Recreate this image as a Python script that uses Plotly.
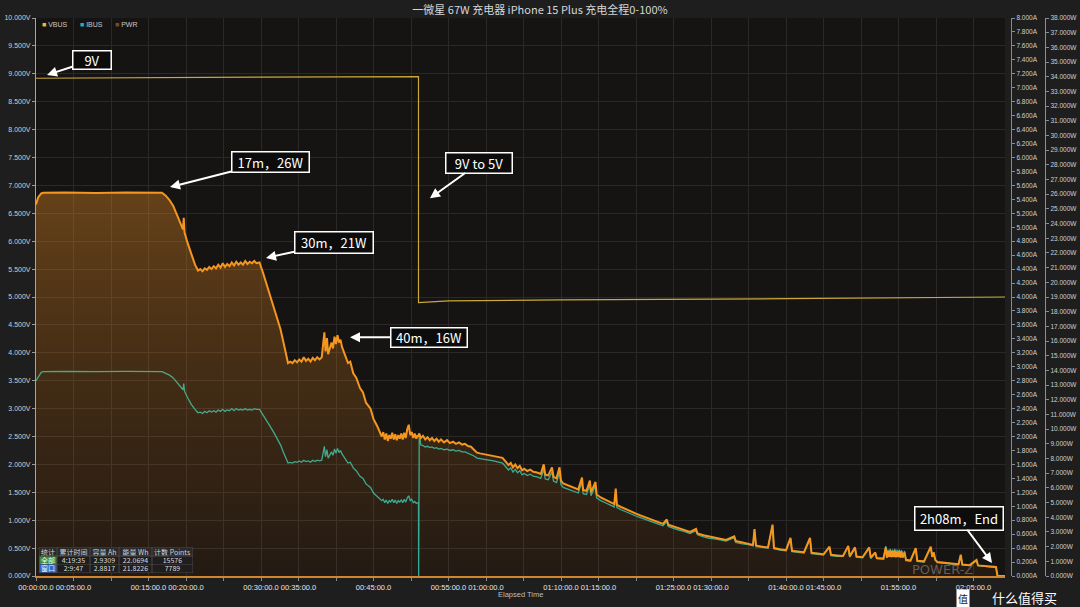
import plotly.graph_objects as go

TITLE = "一微星 67W 充电器 iPhone 15 Plus 充电全程0-100%"

# ---------------- data ----------------
# VBUS (V), elapsed minutes
t_vbus = [0.0, 10.0, 30.0, 51.0, 51.0, 55.0, 70.0, 100.0, 129.2]
vbus = [8.92, 8.93, 8.94, 8.95, 4.90, 4.93, 4.95, 4.97, 5.00]

# Phase 1 (9V): time (min), PWR (W), IBUS (A)
t_p1 = [0.0, 0.3, 0.7, 1.0, 4.0, 8.0, 12.0, 16.8,
        17.3, 17.8, 18.3, 18.8, 19.2, 19.6, 19.7, 19.8, 20.2, 20.7, 21.2, 21.6,
        21.9, 22.2, 22.5, 22.8, 23.1, 23.4, 23.7, 24.0, 24.3, 24.6, 24.9, 25.2, 25.5,
        25.8, 26.1, 26.4, 26.7, 27.0, 27.3, 27.6, 27.9, 28.2, 28.5, 28.8, 29.1, 29.4, 29.8,
        30.3, 30.8, 31.2, 31.7, 32.1, 32.6, 33.0, 33.3, 33.6,
        33.9, 34.2, 34.5, 34.8, 35.1, 35.4, 35.7, 36.0, 36.3, 36.6, 36.9, 37.2, 37.5, 37.8, 38.1,
        38.3, 38.45, 38.6, 38.8, 38.95, 39.2, 39.4, 39.6, 39.8, 40.0, 40.2, 40.4, 40.6, 40.8,
        41.2, 41.6, 41.9, 42.3, 42.7, 43.2, 43.6, 44.0, 44.6, 45.0, 45.5, 46.1,
        46.3, 46.5, 46.7, 46.9, 47.1, 47.3, 47.5, 47.7, 47.9, 48.1, 48.3, 48.5,
        48.7, 48.9, 49.1, 49.3, 49.5, 49.7, 49.9, 50.1, 50.3, 50.5, 50.7, 50.9, 51.0]
pwr_p1 = [25.3, 25.8, 26.05, 26.1, 26.12, 26.08, 26.12, 26.1,
          25.9, 25.6, 25.2, 24.6, 24.0, 23.6, 24.4, 23.4, 22.7, 21.9, 21.2, 20.8,
          20.9, 20.75, 20.95, 20.85, 21.05, 20.9, 21.1, 20.95, 21.2, 21.0, 21.3, 21.05, 21.25,
          21.1, 21.35, 21.15, 21.4, 21.2, 21.35, 21.2, 21.45, 21.25, 21.4, 21.3, 21.45, 21.3, 21.35,
          20.6, 19.8, 19.2, 18.4, 17.7, 16.8, 15.9, 15.2, 14.5,
          14.6, 14.5, 14.7, 14.55, 14.75, 14.6, 14.9, 14.65, 14.8, 14.6, 14.85, 14.7, 14.9, 14.75, 14.9,
          15.9, 16.6, 15.3, 16.2, 15.1, 15.6, 15.9, 15.5, 16.3, 15.8, 16.4, 15.9, 16.1, 15.6,
          15.1, 14.5, 14.6, 13.8, 13.5, 12.8, 12.5, 11.8, 11.4, 10.7, 10.2, 9.5,
          9.8, 9.3, 9.7, 9.2, 9.6, 9.35, 9.75, 9.3, 9.65, 9.25, 9.6, 9.35,
          9.7, 9.3, 9.75, 9.4, 10.0, 10.3, 9.6, 9.8, 9.4, 9.7, 9.35, 9.6, 9.5]
ibus_p1 = [2.80, 2.86, 2.92, 2.93, 2.935, 2.93, 2.935, 2.93,
           2.91, 2.88, 2.84, 2.78, 2.72, 2.67, 2.76, 2.65, 2.56, 2.46, 2.39, 2.34,
           2.35, 2.33, 2.36, 2.34, 2.37, 2.35, 2.37, 2.35, 2.38, 2.36, 2.39, 2.36, 2.38,
           2.37, 2.40, 2.37, 2.40, 2.38, 2.39, 2.38, 2.40, 2.38, 2.39, 2.38, 2.40, 2.39, 2.39,
           2.31, 2.22, 2.15, 2.06, 1.98, 1.88, 1.77, 1.69, 1.62,
           1.63, 1.62, 1.64, 1.63, 1.65, 1.63, 1.66, 1.64, 1.65, 1.63, 1.66, 1.64, 1.66, 1.65, 1.66,
           1.78, 1.86, 1.71, 1.81, 1.69, 1.74, 1.78, 1.73, 1.82, 1.76, 1.83, 1.77, 1.80, 1.75,
           1.69, 1.62, 1.63, 1.55, 1.51, 1.43, 1.40, 1.32, 1.27, 1.19, 1.14, 1.08,
           1.10, 1.05, 1.09, 1.04, 1.08, 1.06, 1.10, 1.05, 1.09, 1.04, 1.08, 1.06,
           1.09, 1.05, 1.10, 1.06, 1.12, 1.15, 1.08, 1.10, 1.05, 1.07, 1.04, 1.05, 1.04]

# Phase 2 (5V)
t_p2 = [51.02, 51.1, 51.3, 51.6, 51.9, 52.2, 52.5, 52.8, 53.1, 53.4, 53.7, 54.0,
        54.4, 54.8, 55.2, 55.6, 56.0, 56.4, 56.8, 57.2, 57.6, 58.0, 58.4, 58.8,
        59.2, 59.8, 60.4, 61.0, 61.6, 62.2, 62.6, 63.0, 63.3, 63.6, 63.9, 64.2,
        64.5, 64.8, 65.1, 65.5, 65.9, 66.3, 66.8, 67.3, 67.7, 67.9, 68.3, 68.8,
        69.0, 69.4, 69.8, 70.0, 70.3, 70.8, 71.3, 71.8, 72.3, 72.8, 72.95, 73.4,
        73.85, 74.0, 74.6, 74.75, 75.3, 75.9, 76.5, 77.1, 77.3, 77.45, 78.0, 78.6,
        79.3, 80.0, 80.5, 81.2, 82.0, 82.8, 83.6, 84.1, 84.3, 85.0, 85.6, 86.4,
        87.2, 88.0, 88.2, 89.0, 89.8, 90.7, 91.4, 92.0, 93.1, 93.3, 94.2, 95.0,
        95.6, 95.8, 96.0, 96.8, 97.6, 98.2, 98.4, 99.2, 100.0, 100.6, 100.8, 101.6,
        102.4, 103.2, 103.4, 104.2, 105.0, 105.8, 106.0, 106.8, 107.6, 108.3, 108.5, 109.2,
        109.4, 110.2, 111.1, 111.3, 111.9, 112.1, 113.0, 113.3, 113.45, 113.6, 113.75, 113.9,
        114.05, 114.2, 114.35, 114.5, 114.65, 114.8, 114.95, 115.1, 115.25, 115.4, 115.55, 115.8,
        116.0, 116.6, 117.3, 117.5, 118.4, 119.3, 119.5, 119.7, 119.9, 120.2, 121.0, 122.0,
        123.0, 123.3, 123.5, 124.5, 125.4, 125.6, 126.5, 127.3, 128.0, 128.2, 129.2]
pwr_p2 = [9.55, 9.7, 9.4, 9.55, 9.3, 9.45, 9.25, 9.4, 9.2, 9.35, 9.15, 9.3,
          9.1, 9.25, 9.05, 9.15, 9.0, 9.1, 8.95, 9.0, 8.85, 8.8, 8.6, 8.4,
          8.35, 8.3, 8.25, 8.2, 8.15, 8.05, 7.8, 7.55, 7.7, 7.4, 7.6, 7.35,
          7.5, 7.2, 7.3, 7.15, 7.25, 7.1, 7.05, 6.95, 7.6, 6.9, 6.85, 7.4,
          6.75, 6.65, 7.4, 6.5, 6.3, 6.2, 6.1, 6.0, 5.9, 6.7, 5.85, 5.8,
          6.5, 5.7, 6.4, 5.55, 5.35, 5.2, 5.05, 4.9, 5.95, 4.85, 4.7, 4.55,
          4.4, 4.25, 4.15, 4.0, 3.85, 3.7, 3.55, 3.85, 3.5, 3.37, 3.27, 3.15,
          3.0, 3.2, 2.9, 2.78, 2.68, 2.6, 2.5, 2.45, 2.7, 2.38, 2.28, 2.2,
          2.12, 3.2, 2.08, 2.0, 1.95, 3.5, 1.9, 1.82, 1.76, 2.6, 1.72, 1.67,
          1.62, 2.6, 1.58, 1.53, 1.48, 2.0, 1.44, 1.4, 1.36, 2.05, 1.34, 1.95,
          1.32, 1.28, 1.95, 1.25, 1.6, 1.23, 1.2, 1.95, 1.25, 1.7, 1.3, 1.75,
          1.28, 1.7, 1.3, 1.75, 1.27, 1.65, 1.3, 1.7, 1.26, 1.68, 1.25, 1.6,
          1.1, 1.06, 1.9, 1.04, 1.0, 2.0, 1.3, 1.6, 1.1, 0.95, 0.9, 0.85,
          0.8, 1.45, 0.78, 0.74, 1.1, 0.72, 0.7, 0.66, 0.62, 0.0, 0.0]
ibus_p2 = [0.0, 2.05, 1.88, 1.87, 1.85, 1.86, 1.84, 1.85, 1.83, 1.84, 1.82, 1.83,
           1.81, 1.82, 1.80, 1.81, 1.79, 1.80, 1.78, 1.78, 1.76, 1.75, 1.72, 1.69,
           1.68, 1.67, 1.66, 1.65, 1.64, 1.62, 1.57, 1.52, 1.55, 1.49, 1.53, 1.48,
           1.51, 1.45, 1.47, 1.44, 1.46, 1.43, 1.42, 1.40, 1.53, 1.39, 1.38, 1.49,
           1.36, 1.34, 1.49, 1.31, 1.27, 1.25, 1.23, 1.21, 1.19, 1.35, 1.18, 1.17,
           1.31, 1.15, 1.29, 1.12, 1.08, 1.05, 1.02, 0.99, 1.22, 0.98, 0.95, 0.92,
           0.89, 0.86, 0.84, 0.81, 0.78, 0.75, 0.72, 0.78, 0.71, 0.68, 0.66, 0.64,
           0.61, 0.65, 0.59, 0.56, 0.54, 0.53, 0.51, 0.50, 0.55, 0.48, 0.46, 0.45,
           0.43, 0.66, 0.42, 0.41, 0.40, 0.72, 0.39, 0.37, 0.36, 0.53, 0.35, 0.34,
           0.33, 0.53, 0.32, 0.31, 0.30, 0.41, 0.29, 0.28, 0.28, 0.42, 0.27, 0.40,
           0.27, 0.26, 0.40, 0.25, 0.33, 0.25, 0.24, 0.43, 0.26, 0.38, 0.27, 0.39,
           0.28, 0.38, 0.27, 0.39, 0.28, 0.38, 0.27, 0.38, 0.27, 0.37, 0.27, 0.36,
           0.22, 0.21, 0.39, 0.21, 0.20, 0.41, 0.28, 0.34, 0.23, 0.19, 0.18, 0.17,
           0.16, 0.30, 0.16, 0.15, 0.22, 0.15, 0.14, 0.13, 0.12, 0.0, 0.0]

for a, b, c in [(t_p1, pwr_p1, ibus_p1), (t_p2, pwr_p2, ibus_p2)]:
    assert len(a) == len(b) == len(c), (len(a), len(b), len(c))

t_all = t_p1 + t_p2
pwr_all = pwr_p1 + pwr_p2
ibus_all = ibus_p1 + ibus_p2

x_tickvals = [0, 5, 10, 15, 20, 25, 30, 35, 40, 45, 50, 55, 60, 65, 70, 75, 80,
              85, 90, 95, 100, 105, 110, 115, 120, 125]
x_ticktext = ["00:00:00.0", "00:05:00.0", "", "00:15:00.0", "00:20:00.0", "",
              "00:30:00.0", "00:35:00.0", "", "00:45:00.0", "", "00:55:00.0",
              "01:00:00.0", "", "01:10:00.0", "01:15:00.0", "", "01:25:00.0",
              "01:30:00.0", "", "01:40:00.0", "01:45:00.0", "", "01:55:00.0", "",
              "02:05:00.0"]

stat_header = ["统计", "累计时间", "容量 Ah", "能量 Wh", "计数 Points"]
stat_row_all = ["全部", "4:19:35", "2.9309", "22.0694", "15576"]
stat_row_win = ["窗口", "2:9:47", "2.8817", "21.8226", "7789"]

notes = ["9V", "17m，26W", "9V to 5V", "30m，21W", "40m，16W", "2h08m，End"]

# ---------------- styling / geometry ----------------
C_V = "#c9a93a"
C_I = "#22b5a8"
C_P = "#f5961e"
BG = "#1e1e1e"
PLOT_BG = "#161313"
GRID = "#2c2828"
FONT = "Liberation Sans, Noto Sans CJK SC, sans-serif"
CJK = "Noto Sans CJK SC, Noto Sans, sans-serif"

L, R, T, B = 36, 8, 18, 31
WP = 1080 - L - R
HP = 607 - T - B
x_end = (1005 - L) / WP
posA = (1011 - L) / WP
posW = (1045 - L) / WP


def px(xp):
    return (xp - L) / WP


def py(yp):
    return (576 - yp) / HP


fig = go.Figure()

fig.add_trace(go.Scatter(
    x=t_all, y=pwr_all, name="PWR", mode="lines", yaxis="y3",
    line=dict(color=C_P, width=2),
    fill="tozeroy",
    fillgradient=dict(type="vertical", start=0, stop=26,
                      colorscale=[[0, "rgba(190,110,20,0.08)"],
                                  [1, "rgba(230,140,35,0.38)"]]),
    showlegend=False))
fig.add_trace(go.Scatter(
    x=t_all, y=ibus_all, name="IBUS", mode="lines", yaxis="y2",
    line=dict(color=C_I, width=1.3), showlegend=False))
fig.add_trace(go.Scatter(
    x=t_vbus, y=vbus, name="VBUS", mode="lines", yaxis="y",
    line=dict(color=C_V, width=1.2), showlegend=False))

axis_font = dict(size=7, color="#cfcfcf", family=FONT)

fig.update_layout(
    width=1080, height=607,
    margin=dict(l=L, r=R, t=T, b=B, autoexpand=False),
    paper_bgcolor=BG, plot_bgcolor=PLOT_BG,
    font=dict(family=FONT, color="#d0d0d0"),
    title=dict(text=TITLE, x=0.5, xanchor="center", y=1 - 10 / 607, yanchor="middle",
               font=dict(size=11, color="#d6d6d6", family=CJK)),
    xaxis=dict(domain=[0, x_end], range=[0, 129.2], tickvals=x_tickvals, ticktext=x_ticktext,
               showgrid=True, gridcolor=GRID, gridwidth=1, zeroline=False,
               showline=True, linecolor="#d0862c", linewidth=1.5,
               ticks="outside", ticklen=3, tickcolor="#8a8a8a",
               tickfont=dict(size=7.5, color="#e6e6e6", family=FONT), automargin=False),
    yaxis=dict(range=[0, 10], dtick=0.5, tick0=0, tickformat=".3f", ticksuffix="V",
               showgrid=True, gridcolor=GRID, gridwidth=1, zeroline=False,
               showline=True, linecolor=C_V, linewidth=1.2,
               ticks="outside", ticklen=3, tickcolor="#9a9a9a",
               tickfont=axis_font, automargin=False),
    yaxis2=dict(range=[0, 8], dtick=0.2, tick0=0, tickformat=".3f", ticksuffix="A",
                overlaying="y", side="right", anchor="free", position=posA,
                showgrid=False, zeroline=False, showline=True, linecolor=C_I, linewidth=1.2,
                ticks="outside", ticklen=3, tickcolor="#8a8a8a",
                tickfont=dict(size=6.5, color="#cfcfcf", family=FONT), automargin=False),
    yaxis3=dict(range=[0, 38], dtick=1, tick0=0, tickformat=".3f", ticksuffix="W",
                overlaying="y", side="right", anchor="free", position=posW,
                showgrid=False, zeroline=False, showline=True, linecolor="#c8862a", linewidth=1.2,
                ticks="outside", ticklen=3, tickcolor="#8a8a8a",
                tickfont=dict(size=6.5, color="#cfcfcf", family=FONT), automargin=False),
    showlegend=False,
)

annos = []
# legend
leg = [("VBUS", "#e6c22a", 0.55), ("IBUS", "#1fb8b8", 5.6), ("PWR", "#7a4a22", 10.27)]
for name, col, xx in leg:
    annos.append(dict(x=xx, y=9.89, xref="x", yref="y", xanchor="left", yanchor="middle",
                      text=f'<span style="color:{col}">■</span> {name}', showarrow=False,
                      font=dict(size=7, color="#c8c8c8", family=FONT)))

# callouts: (text, head_t, head_v, ax, ay, w, h)
call = [(notes[0], 1.47, 8.98, 44.5, -14.5, 37, 17),
        (notes[1], 17.87, 6.97, 100, -25.5, 76, 19),
        (notes[2], 52.53, 6.77, 49.5, -35.5, 65, 19),
        (notes[3], 30.67, 5.70, 67.5, -15, 77, 20),
        (notes[4], 41.87, 4.28, 78.5, 0, 75, 18),
        (notes[5], 127.47, 0.233, -33.5, -45, 87, 22)]
for txt, hx, hy, ax, ay, w, h in call:
    annos.append(dict(x=hx, y=hy, xref="x", yref="y", ax=ax, ay=ay, text=txt,
                      showarrow=True, arrowhead=2, arrowsize=1, arrowwidth=2,
                      arrowcolor="#ffffff", bgcolor="#0c0c0c", bordercolor="#ffffff",
                      borderwidth=1.5, borderpad=0, width=w, height=h,
                      font=dict(size=13, color="#ffffff", family=CJK)))

# stats table drawn as bordered cells
col_edges = [39, 57, 90, 119, 152, 193]
row_edges = [547, 556, 564.5, 573]
rows = [stat_header, stat_row_all, stat_row_win]
for ri, row in enumerate(rows):
    for ci, txt in enumerate(row):
        x0, x1 = col_edges[ci], col_edges[ci + 1]
        y0, y1 = row_edges[ri], row_edges[ri + 1]
        if ri == 0:
            bg, fc = "#2b2929", "#d4d4d4"
        elif ci == 0:
            bg, fc = ("#3d8f3d", "#e8ffe8") if ri == 1 else ("#2d6ccc", "#eef4ff")
        else:
            bg, fc = "#1f1d1d", "#dadada"
        annos.append(dict(x=px((x0 + x1) / 2), y=py((y0 + y1) / 2), xref="paper", yref="paper",
                          xanchor="center", yanchor="middle", text=txt, showarrow=False,
                          width=x1 - x0 - 1, height=y1 - y0 - 1, borderpad=0,
                          bgcolor=bg, bordercolor="#4a4848", borderwidth=0.5,
                          font=dict(size=7, color=fc, family=CJK)))

# x-axis title
annos.append(dict(x=0.5 * x_end, y=py(594), xref="paper", yref="paper",
                  text="Elapsed Time", showarrow=False, xanchor="center", yanchor="middle",
                  font=dict(size=7.5, color="#bdbdbd", family=FONT)))
# watermarks
annos.append(dict(x=px(942), y=py(569), xref="paper", yref="paper",
                  text="POWER-Z", showarrow=False, xanchor="center", yanchor="middle",
                  font=dict(size=13, color="rgba(160,160,160,0.5)", family="DejaVu Sans")))
annos.append(dict(x=px(963), y=py(598), xref="paper", yref="paper",
                  text="值", showarrow=False, xanchor="center", yanchor="middle",
                  bgcolor="#ffffff", borderpad=1,
                  font=dict(size=10, color="#202020", family=CJK)))
annos.append(dict(x=px(1024), y=py(597), xref="paper", yref="paper",
                  text="什么值得买", showarrow=False, xanchor="center", yanchor="middle",
                  font=dict(size=13, color="#ffffff", family=CJK)))

fig.update_layout(annotations=annos)

fig.write_html("out.html")
